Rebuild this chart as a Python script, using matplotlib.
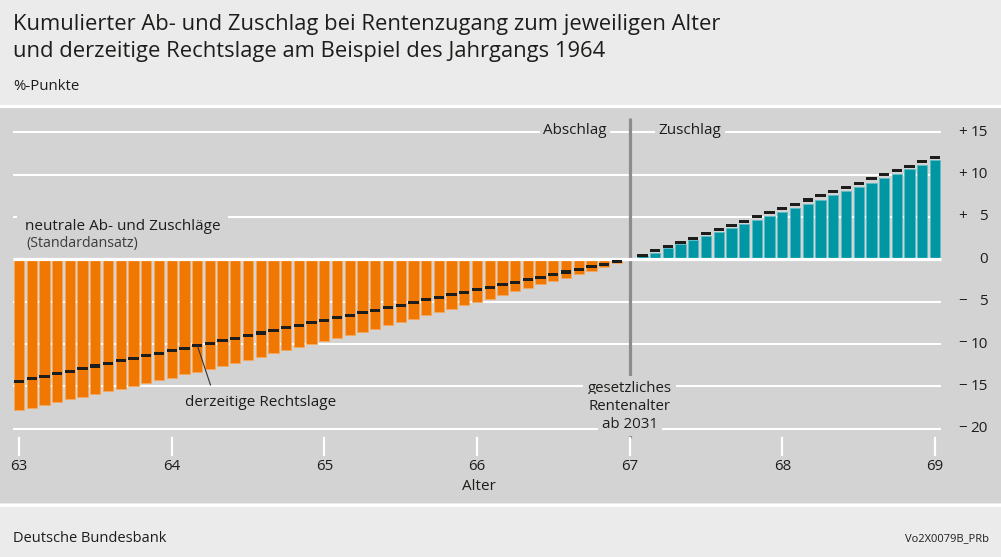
import matplotlib
matplotlib.use("Agg")
import matplotlib.pyplot as plt
import matplotlib.transforms as mtransforms

plt.rcParams['font.family'] = ['Open Sans', 'DejaVu Sans']

# ---------------- data ----------------
# early retirement: ages 63 + k/12 (k = 0..47), months before 67: 48..1
early_ages = [63 + k / 12 for k in range(48)]
early_neutral = [-17.8, -17.5, -17.2, -16.85, -16.55, -16.2, -15.9, -15.6, -15.3, -14.95,
                 -14.6, -14.3, -14.0, -13.6, -13.25, -12.9, -12.55, -12.2, -11.85, -11.5,
                 -11.1, -10.7, -10.4, -10.05, -9.65, -9.3, -8.95, -8.55, -8.2, -7.8,
                 -7.4, -7.0, -6.6, -6.2, -5.85, -5.45, -5.05, -4.65, -4.2, -3.8,
                 -3.4, -2.95, -2.55, -2.15, -1.75, -1.35, -0.9, -0.45]
early_current = [-14.4, -14.1, -13.8, -13.5, -13.2, -12.9, -12.6, -12.3, -12.0, -11.7,
                 -11.4, -11.1, -10.8, -10.5, -10.2, -9.9, -9.6, -9.3, -9.0, -8.7,
                 -8.4, -8.1, -7.8, -7.5, -7.2, -6.9, -6.6, -6.3, -6.0, -5.7,
                 -5.4, -5.1, -4.8, -4.5, -4.2, -3.9, -3.6, -3.3, -3.0, -2.7,
                 -2.4, -2.1, -1.8, -1.5, -1.2, -0.9, -0.6, -0.3]
# late retirement: ages 67 + m/12 (m = 1..24)
late_ages = [67 + m / 12 for m in range(1, 25)]
late_neutral = [0.4, 0.8, 1.3, 1.8, 2.28, 2.75, 3.2, 3.66, 4.13, 4.6,
                5.08, 5.55, 6.02, 6.53, 7.04, 7.56, 8.06, 8.54, 9.04, 9.56,
                10.11, 10.63, 11.13, 11.69]
late_current = [0.5, 1.0, 1.5, 2.0, 2.5, 3.0, 3.5, 4.0, 4.5, 5.0,
                5.5, 6.0, 6.5, 7.0, 7.5, 8.0, 8.5, 9.0, 9.5, 10.0,
                10.5, 11.0, 11.5, 12.0]

x_ticks = [63, 64, 65, 66, 67, 68, 69]
y_ticks = [15, 10, 5, 0, -5, -10, -15, -20]
y_signs = ['+', '+', '+', '', '\u2212', '\u2212', '\u2212', '\u2212']
y_nums = ['15', '10', '5', '0', '5', '10', '15', '20']

title_lines = ["Kumulierter Ab- und Zuschlag bei Rentenzugang zum jeweiligen Alter",
               "und derzeitige Rechtslage am Beispiel des Jahrgangs 1964"]

# ---------------- style ----------------
W, H = 1001, 557
ORANGE = '#f07800'
ORANGE_EDGE = '#f6a860'
TEAL = '#0097a5'
TEAL_EDGE = '#5fbcc4'
DARK = '#1d1d1b'
PANEL = '#d3d3d3'
OUTER = '#ebebeb'
VLINE = '#8c8c8c'

fig = plt.figure(figsize=(W / 100, H / 100), dpi=100, facecolor=OUTER)

def fx(p):
    return p / W

def fy(p):
    return 1 - p / H

panel_top, panel_bot = 108, 503
ax = fig.add_axes([0, fy(panel_bot), 1, (panel_bot - panel_top) / H])
ax.set_facecolor(PANEL)
for s in ax.spines.values():
    s.set_visible(False)
ax.set_xticks([])
ax.set_yticks([])

pxx = (935 - 19) / 6.0
pxy = 8.47
y0px = 259.3
ax.set_xlim(63 - 19 / pxx, 63 + (W - 19) / pxx)
ax.set_ylim(-(panel_bot - y0px) / pxy, (y0px - panel_top) / pxy)

def px(p):
    return 63 + (p - 19) / pxx

def py(p):
    return (y0px - p) / pxy

# white separator lines
fig.add_artist(plt.Line2D([0, 1], [fy(106), fy(106)], color='white', lw=2.2, transform=fig.transFigure))
fig.add_artist(plt.Line2D([0, 1], [fy(505), fy(505)], color='white', lw=2.2, transform=fig.transFigure))

gx0, gx1 = 63 - 6 / pxx, 69 + 6 / pxx
for yv in y_ticks:
    ax.hlines(yv, gx0, gx1, color='white', lw=1.5 if yv != 0 else 2.3, zorder=1 if yv != 0 else 4)

bw = 0.81 / 12
ax.bar(early_ages, early_neutral, width=bw, color=ORANGE, edgecolor=ORANGE_EDGE, lw=0.6, zorder=2)
ax.bar(late_ages, late_neutral, width=bw, color=TEAL, edgecolor=TEAL_EDGE, lw=0.6, zorder=2)

mh = 0.36
ax.bar(early_ages, [mh] * len(early_current), bottom=[v - mh / 2 for v in early_current],
       width=bw, color=DARK, lw=0, zorder=5)
ax.bar(late_ages, [mh] * len(late_current), bottom=[v - mh / 2 for v in late_current],
       width=bw, color=DARK, lw=0, zorder=5)

# vertical line at statutory retirement age
ax.vlines(67, py(438), py(118), color=VLINE, lw=2.3, zorder=3)

# x ticks
trans_xfig = mtransforms.blended_transform_factory(ax.transData, fig.transFigure)
for xv in x_ticks:
    ax.add_line(plt.Line2D([xv, xv], [fy(438), fy(455)], color='white', lw=1.6,
                           transform=trans_xfig, zorder=6))
    ax.text(xv, fy(467), str(xv), transform=trans_xfig, fontsize=10.8, color=DARK,
            ha='center', va='center')
fig.text(fx(479), fy(487), 'Alter', fontsize=11, color=DARK, ha='center', va='center')

# y tick labels
trans_yfig = mtransforms.blended_transform_factory(fig.transFigure, ax.transData)
for yv, sg, nm in zip(y_ticks, y_signs, y_nums):
    if sg:
        ax.text(fx(963), yv, sg, transform=trans_yfig, fontsize=11, color=DARK,
                ha='center', va='center')
    ax.text(fx(988), yv, nm, transform=trans_yfig, fontsize=11, color=DARK,
            ha='right', va='center')

# labels in panel
box = dict(facecolor=PANEL, edgecolor='none', pad=2.5)
ax.text(px(575), 15.25, 'Abschlag', fontsize=11, color=DARK, ha='center', va='center',
        zorder=7, bbox=box)
ax.text(px(690), 15.25, 'Zuschlag', fontsize=11, color=DARK, ha='center', va='center',
        zorder=7, bbox=box)

ax.text(px(25), py(226), 'neutrale Ab- und Zuschläge', fontsize=11, color=DARK,
        ha='left', va='center', zorder=7,
        bbox=dict(facecolor=PANEL, edgecolor='none', boxstyle='square,pad=0.5'))
ax.text(px(26), py(243), '(Standardansatz)', fontsize=10.3, color='#3c3c3c',
        ha='left', va='center', zorder=7)

ax.text(px(185), py(403), 'derzeitige Rechtslage', fontsize=11, color=DARK,
        ha='left', va='center', zorder=7)
ax.plot([px(197.5), px(210.5)], [py(346), py(385)], color='#333333', lw=0.8, zorder=6)

for txt, ypx in [('gesetzliches', 388), ('Rentenalter', 406), ('ab 2031', 424)]:
    ax.text(67, py(ypx), txt, fontsize=10.8, color=DARK, ha='center', va='center', zorder=7,
            bbox=dict(facecolor=PANEL, edgecolor='none', pad=3))

# titles and footer
fig.text(fx(13), fy(30), title_lines[0], fontsize=15.8, color=DARK, ha='left', va='baseline')
fig.text(fx(13), fy(57), title_lines[1], fontsize=15.8, color=DARK, ha='left', va='baseline')
fig.text(fx(13), fy(87), '%-Punkte', fontsize=10.8, color=DARK, ha='left', va='center')
fig.text(fx(13), fy(538), 'Deutsche Bundesbank', fontsize=10.5, color=DARK, ha='left', va='center')
fig.text(fx(989), fy(539), 'Vo2X0079B_PRb', fontsize=8, color=DARK, ha='right', va='center')

fig.savefig('out.png', dpi=100, facecolor=OUTER)
